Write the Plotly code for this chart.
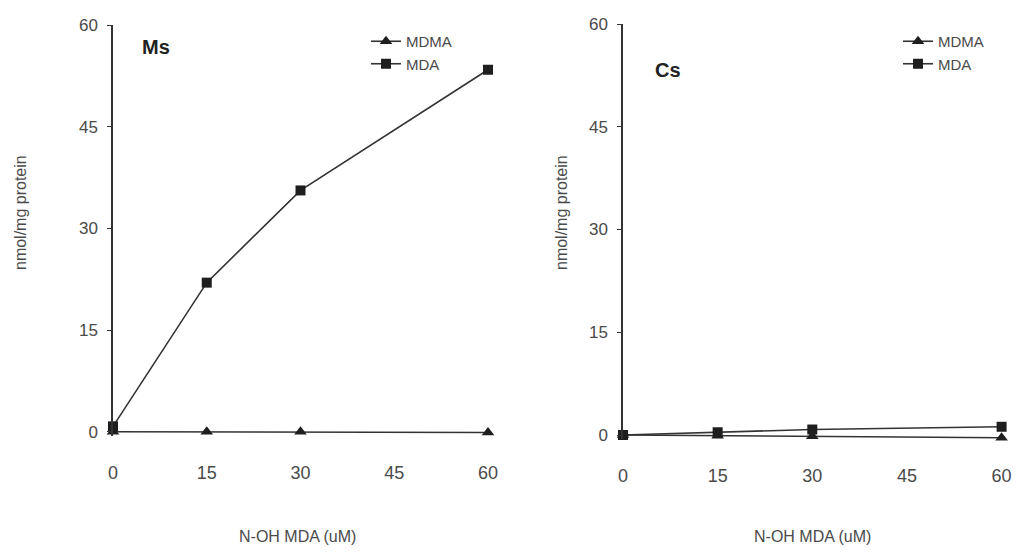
import plotly.graph_objects as go

# ---- data ----
conc = [0, 15, 30, 60]
ms_mdma = [0, 0, 0, -0.1]
ms_mda = [0.8, 22.0, 35.6, 53.4]
cs_mdma = [0, -0.1, -0.2, -0.4]
cs_mda = [0, 0.4, 0.8, 1.2]
y_ticks = [0, 15, 30, 45, 60]
x_ticks = [0, 15, 30, 45, 60]
series_names = ["MDMA", "MDA"]
panel_labels = ["Ms", "Cs"]
x_title = "N-OH MDA (uM)"
y_title = "nmol/mg protein"

OFF = 8  # page body margin offset
W, H = 1022 - OFF, 554 - 2 * OFF
FONT = "Liberation Sans, Arial, sans-serif"
LINE = "#333333"
MK = "#1e1e1e"
TXT = "#4a4a4a"

def px(xp):
    return (xp - OFF) / W

def py(yp):
    return 1 - (yp - OFF) / H

fig = go.Figure()

panels = [
    (ms_mdma, ms_mda, "x", "y", "legend"),
    (cs_mdma, cs_mda, "x2", "y2", "legend2"),
]
for mdma, mda, xa, ya, lg in panels:
    fig.add_trace(go.Scatter(x=conc, y=mdma, name=series_names[0], mode="lines+markers",
                             xaxis=xa, yaxis=ya, legend=lg, cliponaxis=False,
                             line=dict(color=LINE, width=1.6),
                             marker=dict(symbol="triangle-up", size=11, color=MK)))
    fig.add_trace(go.Scatter(x=conc, y=mda, name=series_names[1], mode="lines+markers",
                             xaxis=xa, yaxis=ya, legend=lg, cliponaxis=False,
                             line=dict(color=LINE, width=1.6),
                             marker=dict(symbol="square", size=10, color=MK)))

YMIN = -0.6
XMAX = 61
xcommon = dict(range=[0, XMAX], tickvals=x_ticks, showline=False, showgrid=False, zeroline=False,
               ticks="", ticklabelstandoff=24, automargin=False, ticklabeloverflow="allow",
               tickfont=dict(family=FONT, size=18, color=TXT))
ycommon = dict(range=[YMIN, 60], tickvals=y_ticks, showline=True, linecolor=LINE, linewidth=1.5,
               showgrid=False, zeroline=False, ticks="outside", ticklen=4, tickcolor=LINE,
               ticklabelstandoff=6, automargin=False,
               tickfont=dict(family=FONT, size=17, color=TXT))

# pixel scales
L_X0, L_XS = 113, 6.25
L_Y60, L_YS = 25, 6.78
R_X0, R_XS = 623, 6.31
R_Y60, R_YS = 24, 6.85

fig.update_layout(
    width=W, height=H, autosize=False,
    margin=dict(l=0, r=0, t=0, b=0, pad=0, autoexpand=False),
    paper_bgcolor="white", plot_bgcolor="white",
    xaxis=dict(domain=[px(L_X0), px(L_X0 + XMAX * L_XS)], anchor="y", **xcommon),
    yaxis=dict(domain=[py(L_Y60 + (60 - YMIN) * L_YS), py(L_Y60)], anchor="x", **ycommon),
    xaxis2=dict(domain=[px(R_X0), min(1.0, px(R_X0 + XMAX * R_XS))], anchor="y2", **xcommon),
    yaxis2=dict(domain=[py(R_Y60 + (60 - YMIN) * R_YS), py(R_Y60)], anchor="x2", **ycommon),
    legend=dict(x=px(366), y=py(25), xanchor="left", yanchor="top", bgcolor="rgba(0,0,0,0)",
                font=dict(family=FONT, size=15, color=TXT), tracegroupgap=0),
    legend2=dict(x=px(898), y=py(25), xanchor="left", yanchor="top", bgcolor="rgba(0,0,0,0)",
                 font=dict(family=FONT, size=15, color=TXT), tracegroupgap=0),
    showlegend=True,
)

annots = [
    dict(text="<b>" + panel_labels[0] + "</b>", x=px(156), y=py(47)),
    dict(text="<b>" + panel_labels[1] + "</b>", x=px(668), y=py(70)),
]
for a in annots:
    fig.add_annotation(xref="paper", yref="paper", showarrow=False, xanchor="center", yanchor="middle",
                       font=dict(family=FONT, size=20, color="#222"), **a)

for xx, yy in [(20, 213), (561, 213)]:
    fig.add_annotation(xref="paper", yref="paper", x=px(xx), y=py(yy), text=y_title,
                       xanchor="center", yanchor="middle",
                       textangle=-90, showarrow=False, font=dict(family=FONT, size=16, color=TXT))
for xx, yy in [(297, 536), (812, 536)]:
    fig.add_annotation(xref="paper", yref="paper", x=px(xx), y=py(yy), text=x_title,
                       xanchor="center", yanchor="middle",
                       showarrow=False, font=dict(family=FONT, size=16, color=TXT))

fig.write_html("out.html")
